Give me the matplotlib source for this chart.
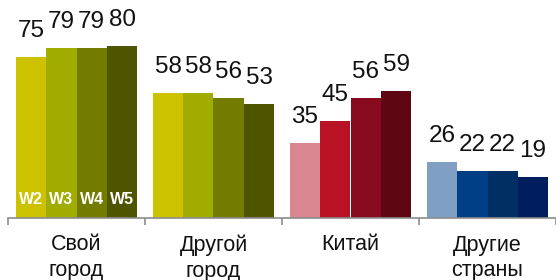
import matplotlib
matplotlib.use("Agg")
import matplotlib.pyplot as plt
import numpy as np

plt.rcParams['font.family'] = ['Liberation Sans', 'DejaVu Sans']

categories = ["Свой\nгород", "Другой\nгород", "Китай", "Другие\nстраны"]
waves = ["W2", "W3", "W4", "W5"]
values = [
    [75, 79, 79, 80],
    [58, 58, 56, 53],
    [35, 45, 56, 59],
    [26, 22, 22, 19],
]
colors = [
    ["#CCC200", "#A0AC00", "#747C00", "#4F5400"],
    ["#CCC200", "#A0AC00", "#747C00", "#4F5400"],
    ["#D98691", "#B81224", "#870A1E", "#5E0612"],
    ["#7FA0C2", "#003F86", "#002F63", "#001E5E"],
]

W, H, DPI = 556, 280, 100
fig = plt.figure(figsize=(W / DPI, H / DPI), dpi=DPI)
left_px, right_px, base_px = 8, 556, 218
ax = fig.add_axes([left_px / W, (H - base_px) / H, (right_px - left_px) / W, base_px / H])

group_px = 137.7
bw = 0.2215
ax.set_xlim(-0.5, -0.5 + (right_px - left_px) / group_px)
px_per_unit = 2.15
ax.set_ylim(0, base_px / px_per_unit)

for gi, (vals, cols) in enumerate(zip(values, colors)):
    for bi, (v, c) in enumerate(zip(vals, cols)):
        x = gi + (bi - 1.5) * bw
        ax.bar(x, v, width=bw, color=c, linewidth=0)
        ax.annotate(str(v), (x, v), xytext=(0, 14.4), textcoords="offset points",
                    ha="center", va="baseline", fontsize=17.5, color="#111111")
        if gi == 0:
            ax.text(x, 18 / px_per_unit, waves[bi], ha="center", va="center",
                    fontsize=11.5, fontweight="bold", color="white")

for gi, cat in enumerate(categories):
    ax.annotate(cat, (gi, 0), xytext=(0, -16.5 * 0.72), textcoords="offset points",
                ha="center", va="top", fontsize=15.5, color="#111111",
                linespacing=1.3, annotation_clip=False)

for s in ["top", "right", "left"]:
    ax.spines[s].set_visible(False)
ax.spines["bottom"].set_color("#8C8C8C")
ax.spines["bottom"].set_linewidth(1.2)
ax.set_yticks([])
ax.set_xticks(np.arange(-0.5, 4.0, 1.0))
ax.set_xticklabels([])
ax.tick_params(axis="x", direction="out", length=5, width=1.2, color="#8C8C8C")

fig.savefig("out.png", dpi=DPI)
